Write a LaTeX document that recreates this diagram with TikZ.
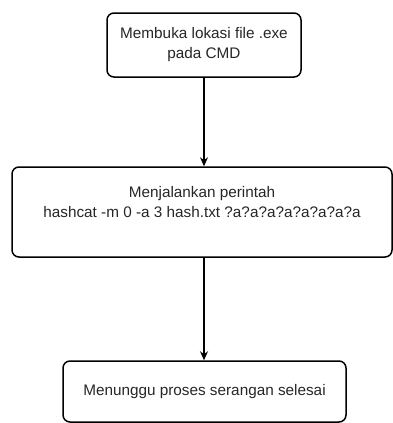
\documentclass[tikz,border=0pt]{standalone}
\usepackage{fontspec}
\setmainfont{Liberation Sans}
\usetikzlibrary{arrows.meta}

\begin{document}
\begin{tikzpicture}[x=1pt, y=1pt,
	stepbox/.style={draw, line width=1.5pt, rounded corners=7pt, align=center, inner sep=0pt, text=black!85, font=\fontsize{15.3}{20}\selectfont},
	flow/.style={line width=1.2pt, -{Stealth[length=9pt, width=8pt]}}]

	\useasboundingbox (0,0) rectangle (393,-423);


	\node[stepbox, minimum width=194, minimum height=64] (open) at (204,-45) {Membuka lokasi file .exe\\pada CMD};
	\node[stepbox, minimum width=380, minimum height=90] (run) at (202,-212) {Menjalankan perintah\\hashcat -m 0 -a 3 hash.txt ?a?a?a?a?a?a?a?a\\ \mbox{}};
	\node[stepbox, minimum width=283, minimum height=61] (wait) at (204.5,-391.5) {Menunggu proses serangan selesai};


	\draw[flow] (open.south -| 204,0) -- (run.north -| 204,0);
	\draw[flow] (run.south -| 204,0) -- (wait.north -| 204,0);


\end{tikzpicture}
\end{document}
